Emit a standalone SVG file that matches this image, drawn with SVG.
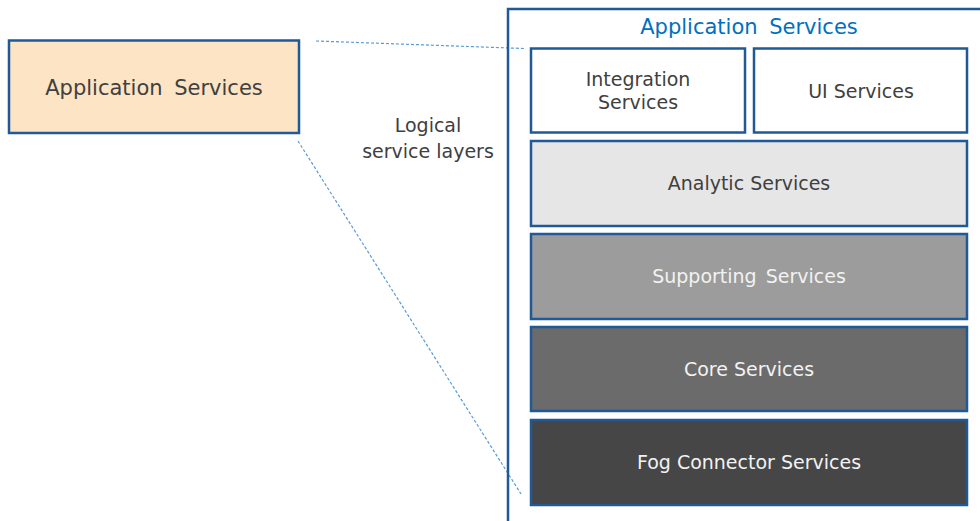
<svg xmlns="http://www.w3.org/2000/svg" width="980" height="521" viewBox="0 0 980 521">
<style>
  .box { stroke: #1f5a96; stroke-width: 2.5; }
  .t { font-family: "DejaVu Sans", Verdana, sans-serif; font-size: 19px; text-anchor: middle; }
  .big { font-size: 21px; word-spacing: 5px; }
  .dark { fill: #404040; }
  .light { fill: #f2f2f2; }
  .dash { stroke: #5b9bd5; stroke-width: 1.2; stroke-dasharray: 3 2; fill: none; }
</style>
<rect width="980" height="521" fill="#ffffff"/>
<g id="connectors">
  <line class="dash" x1="316" y1="41" x2="524" y2="48.5"/>
  <line class="dash" x1="298" y1="141" x2="521" y2="494"/>
</g>
<g id="app-services-left">
  <rect class="box" x="9" y="40.5" width="290" height="92.5" fill="#fde4c4"/>
  <text class="t big dark" x="154" y="95">Application Services</text>
</g>
<g id="logical-label">
  <text class="t dark" x="428" y="132">Logical</text>
  <text class="t dark" x="428" y="158">service layers</text>
</g>
<g id="container">
  <rect class="box" x="508" y="9" width="490" height="530" fill="none"/>
  <text class="t big" x="749" y="34" fill="#0070c0">Application Services</text>
</g>
<g id="integration">
  <rect class="box" x="531" y="48.5" width="214" height="84" fill="#ffffff"/>
  <text class="t dark" x="638" y="86">Integration</text>
  <text class="t dark" x="638" y="109">Services</text>
</g>
<g id="ui">
  <rect class="box" x="754" y="48.5" width="213" height="84" fill="#ffffff"/>
  <text class="t dark" x="861" y="98">UI Services</text>
</g>
<g id="analytic">
  <rect class="box" x="531" y="141" width="436" height="85" fill="#e6e6e6"/>
  <text class="t dark" x="749" y="190">Analytic Services</text>
</g>
<g id="supporting">
  <rect class="box" x="531" y="234" width="436" height="85" fill="#9c9c9c"/>
  <text class="t light" x="749" y="283" word-spacing="3">Supporting Services</text>
</g>
<g id="core">
  <rect class="box" x="531" y="327" width="436" height="84" fill="#6b6b6b"/>
  <text class="t light" x="749" y="376">Core Services</text>
</g>
<g id="fog">
  <rect class="box" x="531" y="420" width="436" height="85" fill="#464646"/>
  <text class="t light" x="749" y="469">Fog Connector Services</text>
</g>
</svg>
